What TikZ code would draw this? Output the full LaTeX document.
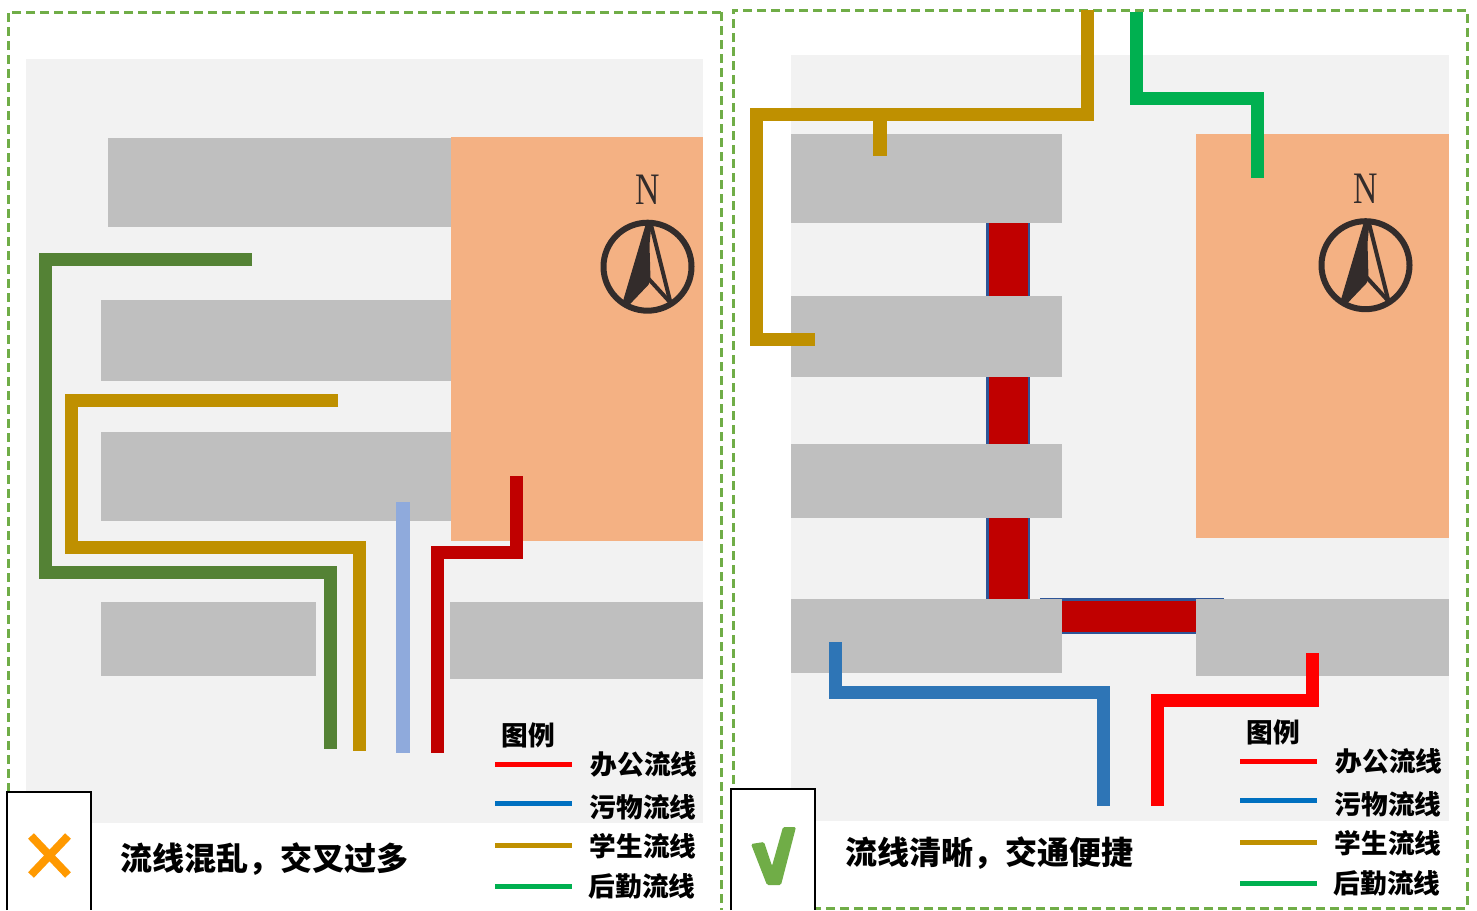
\documentclass[tikz,border=0pt]{standalone}
\usepackage{fontspec}
\setmainfont{Liberation Serif}
\newfontfamily\cjk[BoldFont={Noto Sans CJK SC Black}]{Noto Sans CJK SC}
\definecolor{bggrey}{HTML}{F2F2F2}
\definecolor{bldg}{HTML}{BFBFBF}
\definecolor{orangeblock}{HTML}{F4B183}
\definecolor{dashgreen}{HTML}{70AD47}
\definecolor{dkgreen}{HTML}{548235}
\definecolor{gold}{HTML}{BF9000}
\definecolor{ltblue}{HTML}{8FAADC}
\definecolor{dkred}{HTML}{C00000}
\definecolor{stblue}{HTML}{2E75B6}
\definecolor{legblue}{HTML}{0070C0}
\definecolor{leggreen}{HTML}{00B050}
\definecolor{navy}{HTML}{2F5597}
\definecolor{compass}{HTML}{332C2B}
\definecolor{xorange}{HTML}{FF9900}
\tikzset{
  panel/.style={draw=dashgreen,line width=3pt,dash pattern=on 9pt off 5pt},
  flow/.style={line width=13pt,line cap=butt,line join=miter},
  legline/.style={line width=5pt},
  legtext/.style={font=\cjk\bfseries\fontsize{26.7}{26.7}\selectfont,text=black,inner sep=0pt},
  captext/.style={font=\cjk\bfseries\fontsize{32}{32}\selectfont,text=black,inner sep=0pt},
  markbox/.style={draw=black,line width=2pt,fill=white},
  northN/.style={font=\fontsize{45}{45}\selectfont,text=compass,inner sep=0pt,xscale=.75}
}
\newcommand{\compassmark}[2]{%
  \begin{scope}[shift={(#1,#2)}]
    \draw[compass,line width=6pt] (0,0) circle (44);
    \fill[compass] (-1,-45) -- (-25,36) -- (-19,39) -- (1,18) -- (3,13) -- (2,-22) -- (4,-43) -- cycle;
    \draw[compass,line width=4pt] (3,-44) -- (23,36);
    \draw[compass,line width=4pt] (1,12) -- (23,36);
  \end{scope}}
\newcommand{\legendset}[3]{%
  \begin{scope}[shift={(#1,#2)}]
    \node[legtext,anchor=center] (#3title) at (33,-29) {图例};
    \coordinate (#3a) at (0,0); \coordinate (#3ae) at (77,0);
    \coordinate (#3b) at (0,39); \coordinate (#3be) at (77,39);
    \coordinate (#3c) at (0,81); \coordinate (#3ce) at (77,81);
    \coordinate (#3d) at (0,122); \coordinate (#3de) at (77,122);
    \draw[legline,red] (#3a) -- (#3ae);
    \draw[legline,legblue] (#3b) -- (#3be);
    \draw[legline,gold] (#3c) -- (#3ce);
    \draw[legline,leggreen] (#3d) -- (#3de);
    \node[legtext,anchor=center] (#3ta) at (149,0) {办公流线};
    \node[legtext,anchor=center] (#3tb) at (148,43) {污物流线};
    \node[legtext,anchor=center] (#3tc) at (148,82) {学生流线};
    \node[legtext,anchor=center] (#3td) at (147,122) {后勤流线};
  \end{scope}}
\begin{document}
\begin{tikzpicture}[x=1pt,y=-1pt]
\useasboundingbox (0,0) rectangle (1477,910);
\fill[white] (0,0) rectangle (1477,910);
% panels
\draw[panel] (721,12) -- (8,12) -- (8,910);
\draw[panel] (721,12) -- (721,910);
\draw[panel] (733,910) -- (733,10) -- (1467,10) -- (1467,908) -- (733,908);
% left site
\fill[bggrey] (26,59) rectangle (703,823);
\fill[bldg] (108,138) rectangle (451,227);
\fill[bldg] (101,300) rectangle (451,381);
\fill[bldg] (101,432) rectangle (451,521);
\fill[bldg] (101,602) rectangle (316,676);
\fill[bldg] (450,602) rectangle (703,679);
\fill[orangeblock] (450.5,137) rectangle (703,541);
% left flows
\draw[flow,dkgreen] (252,259.5) -- (45.5,259.5) -- (45.5,572) -- (330.5,572) -- (330.5,749);
\draw[flow,gold] (338,400.5) -- (71.5,400.5) -- (71.5,547) -- (359,547) -- (359,751);
\draw[flow,ltblue,line width=14pt] (403,502) -- (403,753);
\draw[flow,dkred] (516,476) -- (516,552.5) -- (437,552.5) -- (437,753);
\node[northN] (nl) at (648,190) {N};
\compassmark{647.5}{266.7}
\legendset{495}{764}{L}
% left caption
\draw[markbox] (7,910) -- (7,792) -- (91,792) -- (91,910);
\draw[xorange,line width=8pt] (31,836) -- (68,875);
\draw[xorange,line width=8pt] (68,836) -- (31,875);
\node[captext,anchor=west] (capl) at (120,859) {流线混乱，交叉过多};
% right site
\fill[bggrey] (791,55) rectangle (1449,821);
\fill[bldg] (791,134) rectangle (1062,223);
\fill[bldg] (791,296) rectangle (1062,377);
\fill[bldg] (791,444) rectangle (1062,518);
\fill[bldg] (791,599) rectangle (1062,673);
\fill[bldg] (1196,599) rectangle (1449,676);
\fill[orangeblock] (1196,134) rectangle (1449,538);
% connecting corridors
\foreach \ya/\yb in {223/296,377/444,518/599}{
  \fill[navy] (986,\ya) rectangle (1029.5,\yb);
  \fill[dkred] (988.5,\ya) rectangle (1027.5,\yb);
}
\draw[navy,line width=1.5pt] (1040,598.5) -- (1224,598.5);
\fill[navy] (1062,599) rectangle (1196,634);
\fill[dkred] (1062,601) rectangle (1196,632);
% right flows
\draw[flow,gold] (1087.5,10) -- (1087.5,114.5) -- (756,114.5) -- (756,339) -- (815,339);
\draw[flow,gold,line width=14pt] (880,114) -- (880,156);
\draw[flow,leggreen] (1136,12) -- (1136,98.5) -- (1257,98.5) -- (1257,178);
\draw[flow,stblue] (835,642) -- (835,692) -- (1103.5,692) -- (1103.5,806);
\draw[flow,red] (1312.5,653) -- (1312.5,700) -- (1157,700) -- (1157,806);
\node[northN] (nr) at (1366,189) {N};
\compassmark{1365.5}{265.2}
\legendset{1240}{761}{R}
% right caption
\draw[markbox] (731,910) -- (731,789) -- (815,789) -- (815,910);
\fill[dashgreen,rounded corners=1.5pt] (751,844) -- (764,842) -- (772,866) -- (783,827) -- (796,827) -- (781,885) -- (767,885) -- cycle;
\node[captext,anchor=west] (capr) at (845,853) {流线清晰，交通便捷};
\end{tikzpicture}
\end{document}
